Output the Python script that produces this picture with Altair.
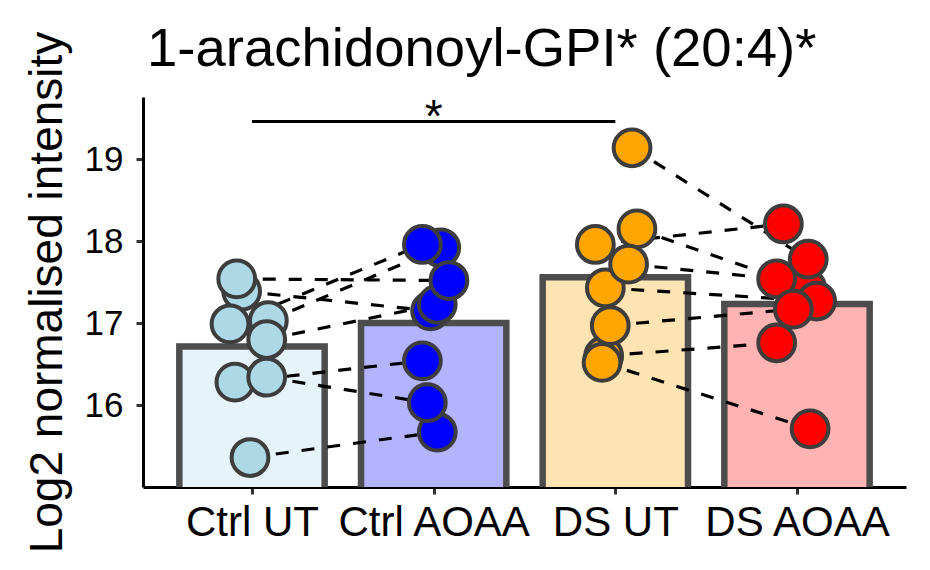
import json
import altair as alt
import pandas as pd

# ---------------- data ----------------
groups = ["Ctrl UT", "Ctrl AOAA", "DS UT", "DS AOAA"]

# values listed in drawing order (later = on top)
ctrl_ut_vals = [17.39, 17.54, 17.03, 16.99, 16.80, 16.28, 16.34, 15.36]
ctrl_ut_jit = [-0.057, -0.084, 0.090, -0.121, 0.081, -0.094, 0.081, -0.011]
ctrl_ut_pair = [2, 1, 4, 3, 5, 6, 7, 8]

ctrl_aoaa_vals = [17.92, 17.96, 17.15, 17.23, 17.52, 15.67, 16.03, 16.54]
ctrl_aoaa_jit = [0.039, -0.062, -0.017, 0.020, 0.084, 0.020, -0.035, -0.062]
ctrl_aoaa_pair = [4, 3, 2, 5, 1, 8, 7, 6]

ds_ut_vals = [16.60, 16.52, 16.97, 17.43, 17.96, 18.15, 17.72, 19.14]
ds_ut_jit = [-0.064, -0.073, -0.028, -0.055, -0.110, 0.119, 0.073, 0.092]
ds_ut_pair = [18, 17, 16, 15, 13, 12, 14, 11]

ds_aoaa_vals = [17.43, 17.27, 17.54, 17.78, 18.21, 16.76, 17.17, 15.71]
ds_aoaa_jit = [0.053, 0.108, -0.112, 0.062, -0.075, -0.112, -0.020, 0.072]
ds_aoaa_pair = [12, 15, 14, 11, 13, 18, 16, 17]

# significance annotation
sig_from = [1]
sig_to = [3]
sig_y = [19.46]
sig_label = ["*"]

y_ticks = [16, 17, 18, 19]
title_text = "1-arachidonoyl-GPI* (20:4)*"
y_title = "Log2 normalised intensity"

# ---------------- styles ----------------
bar_fills = ["#E6F3F8", "#B3B3FF", "#FFE4B3", "#FFB3B3"]
point_fills = ["#ADD8E6", "#0000FF", "#FFA500", "#FF0000"]
FONT = "Liberation Sans"

rows = []
for gi, (g, vals, jit, pairs) in enumerate(
    zip(
        groups,
        [ctrl_ut_vals, ctrl_aoaa_vals, ds_ut_vals, ds_aoaa_vals],
        [ctrl_ut_jit, ctrl_aoaa_jit, ds_ut_jit, ds_aoaa_jit],
        [ctrl_ut_pair, ctrl_aoaa_pair, ds_ut_pair, ds_aoaa_pair],
    ),
    start=1,
):
    for v, j, p in zip(vals, jit, pairs):
        rows.append(dict(group=g, idx=gi, x=gi + j, y=v, pair=p))
df = pd.DataFrame(rows)

sig_df = pd.DataFrame(dict(x1=sig_from, x2=sig_to, y=sig_y, label=sig_label))
sig_df["xm"] = (sig_df["x1"] + sig_df["x2"]) / 2

xscale = alt.Scale(domain=[0.4, 4.6], nice=False, zero=False)
yscale = alt.Scale(domain=[15.0, 19.76], nice=False, zero=False)

label_expr = json.dumps(groups) + "[datum.value - 1]"

x_axis = alt.Axis(
    values=[1, 2, 3, 4],
    labelExpr=label_expr,
    title=None,
    labelFontSize=42,
    labelPadding=8,
    labelFlush=False,
    labelOverlap=False,
    labelLimit=0,
)
y_axis = alt.Axis(
    values=y_ticks,
    format="d",
    title=y_title,
    labelFontSize=35,
    labelPadding=13,
    titleFontSize=46,
    titleFontWeight="normal",
    titlePadding=13,
)

bars = (
    alt.Chart(df)
    .transform_aggregate(mean_y="mean(y)", groupby=["idx", "group"])
    .transform_calculate(bx1="datum.idx - 0.4", bx2="datum.idx + 0.4", by0="0")
    .mark_bar(stroke="#4D4D4D", strokeWidth=6.5, clip=True, opacity=1)
    .encode(
        x=alt.X("bx1:Q", scale=xscale, axis=x_axis),
        x2="bx2:Q",
        y=alt.Y("mean_y:Q", scale=yscale, axis=y_axis),
        y2="by0:Q",
        fill=alt.Fill("group:N", scale=alt.Scale(domain=groups, range=bar_fills), legend=None),
    )
)

lines = (
    alt.Chart(df)
    .mark_line(color="black", strokeWidth=3.2, strokeDash=[13, 13])
    .encode(
        x=alt.X("x:Q", scale=xscale),
        y=alt.Y("y:Q", scale=yscale),
        detail="pair:N",
        order="x:Q",
    )
)

points = (
    alt.Chart(df)
    .mark_circle(size=1350, stroke="#3D3D3D", strokeWidth=4, opacity=1, fillOpacity=1)
    .encode(
        x=alt.X("x:Q", scale=xscale),
        y=alt.Y("y:Q", scale=yscale),
        fill=alt.Fill("group:N", scale=alt.Scale(domain=groups, range=point_fills), legend=None),
    )
)

sig_rule = (
    alt.Chart(sig_df)
    .mark_rule(color="black", strokeWidth=3)
    .encode(x=alt.X("x1:Q", scale=xscale), x2="x2:Q", y=alt.Y("y:Q", scale=yscale))
)

sig_text = (
    alt.Chart(sig_df)
    .mark_text(fontSize=46, font=FONT, color="black", baseline="alphabetic", dy=10)
    .encode(x=alt.X("xm:Q", scale=xscale), y=alt.Y("y:Q", scale=yscale), text="label:N")
)

chart = (
    alt.layer(bars, lines, points, sig_rule, sig_text)
    .resolve_scale(fill="independent")
    .properties(
        width=763,
        height=390,
        autosize=alt.AutoSizeParams(type="none"),
        padding={"left": 135, "top": 89, "right": 16, "bottom": 70},
        title=alt.TitleParams(
            text=title_text,
            anchor="start",
            frame="group",
            fontSize=54.5,
            font=FONT,
            fontWeight="normal",
            color="black",
            dx=4,
            dy=70,
            offset=24,
        ),
    )
    .configure_view(stroke=None)
    .configure_axis(
        labelFont=FONT,
        titleFont=FONT,
        labelColor="black",
        titleColor="black",
        domainColor="black",
        domainWidth=3,
        tickColor="#333333",
        tickWidth=3,
        tickSize=7,
        grid=False,
    )
)

chart.save("out.html", embed_options={"renderer": "svg", "actions": False})
